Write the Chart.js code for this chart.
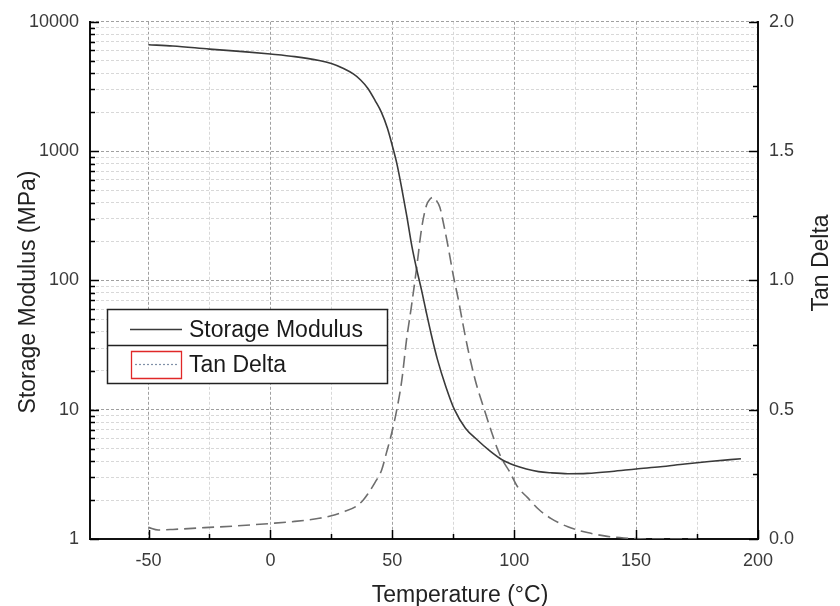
<!DOCTYPE html>
<html>
<head>
<meta charset="utf-8">
<title>Storage Modulus / Tan Delta</title>
<script src="https://cdn.jsdelivr.net/npm/chart.js@4.4.1/dist/chart.umd.min.js"></script>
<style>
  html, body { margin: 0; padding: 0; background: #fff; }
  #wrap { width: 840px; height: 606px; }
</style>
</head>
<body>
<div id="wrap"><canvas id="dma" width="840" height="606"></canvas></div>
<script>
// storage modulus (MPa, log axis) vs temperature
var smTemp = [-50, -40, -25, -10, 0, 10, 20, 25, 30, 34, 37, 40, 43, 45.5, 48, 50, 52, 54, 56, 58, 60, 62, 64, 66, 68.5, 72, 75.5, 80, 85, 90, 95, 100, 105, 110, 115, 122, 130, 140, 150, 160, 170, 180, 193];
var smMod = [6650, 6500, 6150, 5850, 5630, 5380, 5020, 4750, 4350, 3950, 3550, 3050, 2450, 2000, 1500, 1100, 780, 500, 310, 185, 122, 84, 56, 38, 24.5, 15, 10, 7.2, 5.8, 4.8, 4.1, 3.72, 3.48, 3.32, 3.25, 3.2, 3.22, 3.33, 3.48, 3.62, 3.8, 3.97, 4.18];

// tan delta (right axis)
var tdTemp = [-50, -46, -40, -27, -15, 0, 10, 20, 25, 30, 35, 38, 40, 43, 45.6, 47.5, 49.7, 51.8, 53.9, 55.8, 57.8, 60, 62, 64, 65.5, 66.8, 68, 69.5, 71, 72.9, 75, 77, 79, 81, 84, 87.8, 90.5, 93.3, 95.5, 98, 101.5, 105.5, 110, 115, 122, 130, 137, 145, 155, 165, 175];
var tdVal = [0.045, 0.035, 0.037, 0.044, 0.05, 0.06, 0.068, 0.08, 0.09, 0.105, 0.125, 0.15, 0.175, 0.22, 0.266, 0.33, 0.408, 0.498, 0.614, 0.768, 0.897, 1.05, 1.2, 1.29, 1.315, 1.322, 1.31, 1.283, 1.22, 1.13, 1.02, 0.93, 0.83, 0.735, 0.615, 0.498, 0.42, 0.344, 0.3, 0.262, 0.2, 0.16, 0.115, 0.08, 0.047, 0.025, 0.012, 0.004, 0.0, 0.0, 0.0];

// ticks
var xTicks = [-50, -25, 0, 25, 50, 75, 100, 125, 150, 175, 200];
var xLabels = [-50, 0, 50, 100, 150, 200];
var logDecades = [1, 10, 100, 1000, 10000];
var tdTicks = [0, 0.25, 0.5, 0.75, 1, 1.25, 1.5, 1.75, 2];
var tdLabels = [0, 0.5, 1, 1.5, 2];

var FONT = '"Liberation Sans", Arial, sans-serif';

function logTicks() {
  var out = [];
  logDecades.forEach(function (d, i) {
    if (i === logDecades.length - 1) { out.push(d); return; }
    for (var m = 1; m <= 9; m++) out.push(d * m);
  });
  return out;
}
function isMajor(id, v) {
  if (id === "x") return xLabels.indexOf(v) >= 0;
  if (id === "y") return logDecades.indexOf(v) >= 0;
  return tdLabels.indexOf(v) >= 0;
}
function gridColor(id) {
  return function (c) { return (c.tick && isMajor(id, c.tick.value)) ? "#a0a0a0" : "#d8d8d8"; };
}
function gridDash(c) { return c.tick ? [3, 2] : []; }

// inward tick marks, axis titles and the boxed legend
var decor = {
  id: "decor",
  afterDatasetsDraw: function (chart) {
    var ctx = chart.ctx, a = chart.chartArea;
    ctx.save();
    ctx.strokeStyle = "#000"; ctx.lineWidth = 1.5;
    ["x", "y", "y1"].forEach(function (id) {
      var s = chart.scales[id];
      s.ticks.forEach(function (t) {
        var len = isMajor(id, t.value) ? 9 : 5;
        var p = Math.round(s.getPixelForValue(t.value)) + 0.5;
        ctx.beginPath();
        if (id === "x") { ctx.moveTo(p, a.bottom); ctx.lineTo(p, a.bottom - len); }
        else if (id === "y") { ctx.moveTo(a.left, p); ctx.lineTo(a.left + len, p); }
        else { ctx.moveTo(a.right, p); ctx.lineTo(a.right - len, p); }
        ctx.stroke();
      });
    });
    ctx.restore();
  },
  afterDraw: function (chart) {
    var ctx = chart.ctx;
    ctx.save();
    ctx.font = "23px " + FONT;
    ctx.fillStyle = "#222";
    ctx.textAlign = "center"; ctx.textBaseline = "alphabetic";
    ctx.fillText("Temperature (\u00b0C)", 460, 602);
    ctx.save(); ctx.translate(35, 292); ctx.rotate(-Math.PI / 2);
    ctx.fillText("Storage Modulus (MPa)", 0, 0); ctx.restore();
    ctx.save(); ctx.translate(828, 263); ctx.rotate(-Math.PI / 2);
    ctx.fillText("Tan Delta", 0, 0); ctx.restore();

    // legend
    ctx.fillStyle = "#fff";
    ctx.fillRect(107, 309, 280, 74);
    ctx.strokeStyle = "#222"; ctx.lineWidth = 1.5;
    ctx.strokeRect(107.5, 309.5, 280, 74);
    ctx.beginPath(); ctx.moveTo(107, 345.5); ctx.lineTo(388, 345.5); ctx.stroke();
    ctx.strokeStyle = "#3a3a3a"; ctx.lineWidth = 1.5;
    ctx.beginPath(); ctx.moveTo(130, 329.5); ctx.lineTo(182, 329.5); ctx.stroke();
    ctx.strokeStyle = "#e02828"; ctx.lineWidth = 1.3;
    ctx.beginPath(); ctx.rect(131.5, 351.5, 50, 27); ctx.stroke();
    ctx.strokeStyle = "#8090a8"; ctx.lineWidth = 1.2; ctx.setLineDash([2, 2]);
    ctx.beginPath(); ctx.moveTo(135, 364.5); ctx.lineTo(179, 364.5); ctx.stroke();
    ctx.setLineDash([]);
    ctx.fillStyle = "#1a1a1a"; ctx.textAlign = "left";
    ctx.fillText("Storage Modulus", 189, 337);
    ctx.fillText("Tan Delta", 189, 372);
    ctx.restore();
  }
};

new Chart(document.getElementById("dma"), {
  type: "line",
  data: {
    datasets: [
      { label: "Storage Modulus", yAxisID: "y",
        data: smTemp.map(function (t, i) { return { x: t, y: smMod[i] }; }),
        borderColor: "#3a3a3a", borderWidth: 1.6, pointRadius: 0,
        cubicInterpolationMode: "monotone" },
      { label: "Tan Delta", yAxisID: "y1",
        data: tdTemp.map(function (t, i) { return { x: t, y: tdVal[i] }; }),
        borderColor: "#6e6e6e", borderWidth: 1.6, borderDash: [12, 6], pointRadius: 0,
        cubicInterpolationMode: "monotone" }
    ]
  },
  options: {
    responsive: false, animation: false, devicePixelRatio: 1,
    layout: { padding: { top: 21, left: 0, right: 0, bottom: 0 } },
    plugins: { legend: { display: false }, tooltip: { enabled: false } },
    scales: {
      x: {
        type: "linear", min: -74, max: 200,
        afterBuildTicks: function (s) { s.ticks = xTicks.map(function (v) { return { value: v }; }); },
        afterFit: function (s) { s.height = 67; },
        ticks: { autoSkip: false, maxRotation: 0, padding: 11, color: "#3a3a3a", font: { family: FONT, size: 18 },
          callback: function (v) { return xLabels.indexOf(v) >= 0 ? String(v) : ""; } },
        grid: { drawTicks: false, color: gridColor("x"), lineWidth: 1 },
        border: { display: true, color: "#111", width: 2, dash: gridDash }
      },
      y: {
        type: "logarithmic", position: "left", min: 1, max: 10000,
        afterBuildTicks: function (s) { s.ticks = logTicks().map(function (v) { return { value: v }; }); },
        afterFit: function (s) { s.width = 90; },
        ticks: { autoSkip: false, padding: 11, color: "#3a3a3a", font: { family: FONT, size: 18 },
          callback: function (v) { return logDecades.indexOf(v) >= 0 ? String(v) : ""; } },
        grid: { drawTicks: false, color: gridColor("y"), lineWidth: 1 },
        border: { display: true, color: "#111", width: 2, dash: gridDash }
      },
      y1: {
        type: "linear", position: "right", min: 0, max: 2,
        afterBuildTicks: function (s) { s.ticks = tdTicks.map(function (v) { return { value: v }; }); },
        afterFit: function (s) { s.width = 82; },
        ticks: { autoSkip: false, padding: 11, color: "#3a3a3a", font: { family: FONT, size: 18 },
          callback: function (v) { return tdLabels.indexOf(v) >= 0 ? v.toFixed(1) : ""; } },
        grid: { drawTicks: false, drawOnChartArea: false },
        border: { display: true, color: "#111", width: 2 }
      }
    }
  },
  plugins: [decor]
});
</script>
</body>
</html>
